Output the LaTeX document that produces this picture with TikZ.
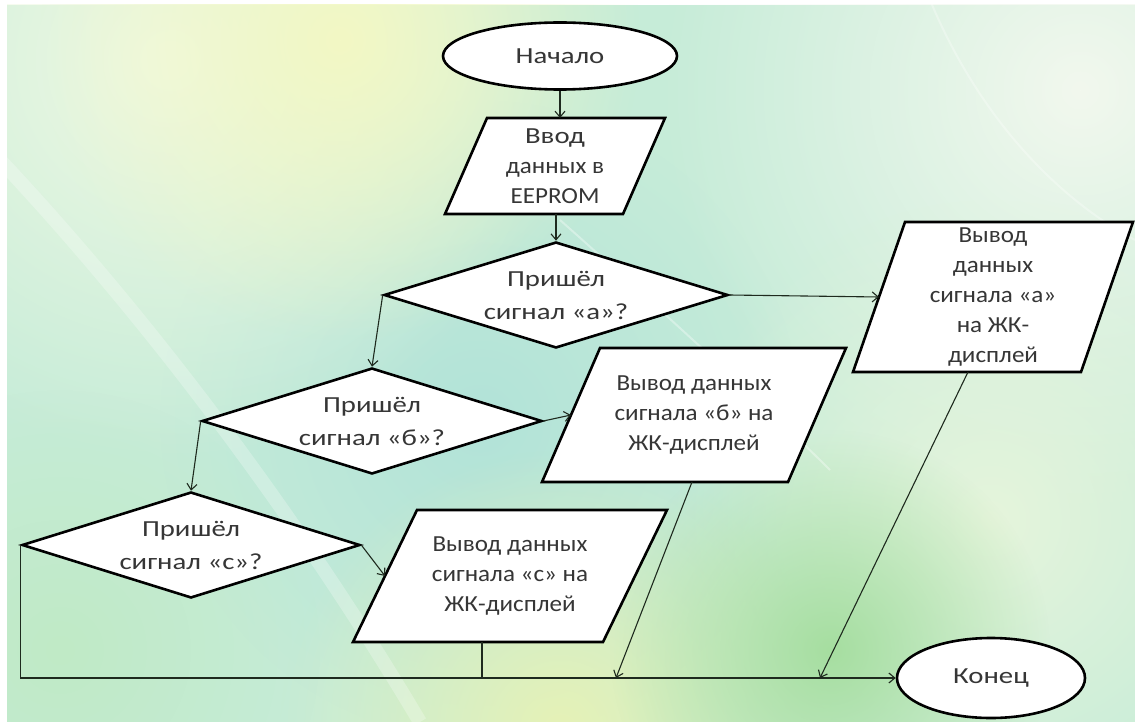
\documentclass[tikz,border=0pt]{standalone}
\usepackage{fontspec}
\setmainfont{Carlito}
\newfontfamily\widefont[FakeStretch=1.25]{Carlito}
\newfontfamily\blockfont[FakeStretch=1.09]{Carlito}
\usetikzlibrary{shapes.geometric,arrows.meta,fadings,calc}

\definecolor{bgbase}{HTML}{C6ECD8}
\definecolor{bgteal}{HTML}{B2E3D8}
\definecolor{bglight}{HTML}{F0F9E4}
\definecolor{bgyellow}{HTML}{F3F8C4}
\definecolor{bgpale}{HTML}{F2F8EE}
\definecolor{bgmint}{HTML}{E6F5DC}
\definecolor{bglime}{HTML}{E6F2B6}
\definecolor{bggreen}{HTML}{A6DEA0}
\definecolor{bgleaf}{HTML}{C0EAC6}
\definecolor{txt}{HTML}{363636}
\definecolor{lineclr}{HTML}{1E2A1E}

\tikzfading[name=softglow, inner color=transparent!0, outer color=transparent!100]

% input/output block: name, centre x, centre y, half edge width, half height, half skew, text
\newcommand{\ioshape}[7]{%
  \draw[shapeline] ({#2-#4+#6},{#3-#5}) -- ({#2+#4+#6},{#3-#5})
        -- ({#2+#4-#6},{#3+#5}) -- ({#2-#4-#6},{#3+#5}) -- cycle;
  \node[nodetext] (#1) at (#2,#3) {#7};
  \coordinate (#1-w) at ({#2-#4},#3);
  \coordinate (#1-n) at ({#2+#6},{#3-#5});
  \coordinate (#1-s) at ({#2-#6},{#3+#5});
}

\tikzset{
  shapeline/.style={draw=black, line width=2.6pt, fill=white, line join=miter},
  nodetext/.style={text=txt, font=\blockfont\fontsize{23}{30}\selectfont, align=center, inner sep=0pt},
  widetext/.style={font=\widefont\fontsize{23}{33}\selectfont},
  terminal/.style={ellipse, shapeline, nodetext, widetext},
  decision/.style={diamond, shapeline, nodetext, widetext, aspect=3.2},
  conn/.style={draw=lineclr, line width=1.1pt},
  flow/.style={conn, -{Straight Barb[length=6pt,width=10pt]}},
  glow/.style={fill=#1, path fading=softglow},
}

\begin{document}
\begin{tikzpicture}[x=1pt,y=-1pt]
\useasboundingbox (0,0) rectangle (1135,722);

% soft green backdrop
\fill[white] (0,0) rectangle (1135,722);
\begin{scope}
  \clip (7,5) rectangle (1135,722);
  \fill[bgbase] (7,5) rectangle (1135,722);
  \fill[glow=bgteal] (480,420) circle[radius=320pt];
  \fill[glow=bglight] (170,60) circle[radius=400pt];
  \fill[glow=bgyellow] (340,40) circle[radius=300pt];
  \fill[glow=bgpale] (1080,90) circle[radius=420pt];
  \fill[glow=bgmint] (990,520) circle[radius=320pt];
  \fill[glow=bglime] (560,730) circle[radius=280pt];
  \fill[glow=bggreen] (830,650) circle[radius=220pt];
  \fill[glow=bgleaf] (60,650) circle[radius=260pt];
  \draw[white, opacity=0.25, line width=14pt] (0,160) .. controls (150,320) and (300,520) .. (420,722);
  \draw[white, opacity=0.35, line width=2pt] (560,220) .. controls (650,300) and (760,400) .. (830,470);
  \draw[white, opacity=0.3, line width=2pt] (930,0) .. controls (980,120) and (1060,200) .. (1135,240);
\end{scope}

% terminals
\node[terminal, minimum width=234pt, minimum height=67pt] (start) at (560,56) {Начало};
\node[terminal, minimum width=188pt, minimum height=80pt] (end) at (991,678) {Конец};

% decisions
\node[decision, minimum width=344pt, minimum height=106pt] (da) at (556,295) {Пришёл\\сигнал «а»?};
\node[decision, minimum width=340pt, minimum height=106pt] (db) at (372,421) {Пришёл\\сигнал «б»?};
\node[decision, minimum width=338pt, minimum height=106pt] (dc) at (191,545) {Пришёл\\сигнал «с»?};

% input / output blocks
\ioshape{vvod}{555}{166}{89}{48}{21}{\widefont\fontsize{23}{33}\selectfont Ввод\\данных в\\EEPROM}
\ioshape{pa}{993}{297}{114}{75}{26}{Вывод\\данных\\сигнала «а»\\на ЖК-\\дисплей}
\ioshape{pb}{694}{415}{123}{67}{29}{Вывод данных\\сигнала «б» на\\ЖК-дисплей}
\ioshape{pc}{510}{576}{125}{66}{32}{Вывод данных\\сигнала «с» на\\ЖК-дисплей}

% exits from the output blocks and their joins on the bottom line
\coordinate (pa-out) at (968,372);
\coordinate (pb-out) at (692,482);
\coordinate (pc-out) at (482,642);
\coordinate (ja) at (820,678);
\coordinate (jb) at (616,678);

% connectors
\draw[flow] (start.south) -- (start.south |- vvod-n);
\draw[flow] (da.north |- vvod-s) -- (da.north);
\draw[flow] (da.east) -- (pa-w);
\draw[flow] (da.west) -- (db.north);
\draw[flow] (db.east) -- (pb-w);
\draw[flow] (db.west) -- (dc.north);
\draw[flow] (dc.east) -- (pc-w);
\draw[flow] (dc.west) |- (end.west);
\draw[conn] (pc-out) -- (pc-out |- end.west);
\draw[flow] (pb-out) -- (jb);
\draw[flow] (pa-out) -- (ja);
\end{tikzpicture}
\end{document}
